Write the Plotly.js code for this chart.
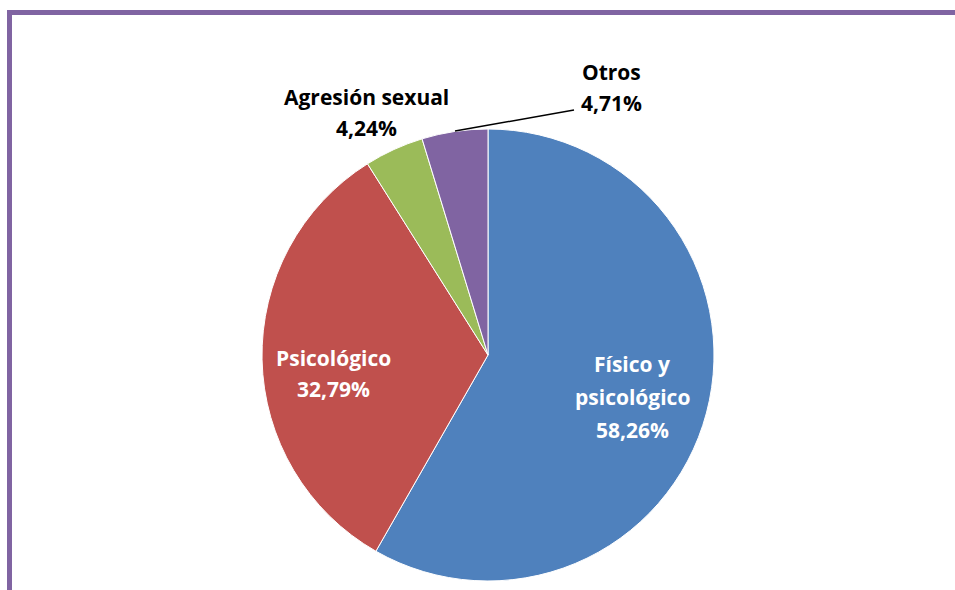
<!DOCTYPE html>
<html><head><meta charset="utf-8">
<script src="https://cdn.plot.ly/plotly-3.0.1.min.js"></script>
<style>html,body{margin:0;padding:0;background:#fff}#chart{width:955px;height:590px}</style>
</head><body><div id="chart"></div>
<script>
const categories = ["Físico y psicológico", "Psicológico", "Agresión sexual", "Otros"];
const labelLines = [["Físico y", "psicológico"], ["Psicológico"], ["Agresión sexual"], ["Otros"]];
const values = [58.26, 32.79, 4.24, 4.71];
const colors = ["#4F81BD", "#C0504D", "#9BBB59", "#8064A2"];

const W = 955, H = 590;
const fmt = v => v.toFixed(2).replace('.', ',') + '%';
const FONT = 'Open Sans, Liberation Sans, sans-serif';

// label first-line centre positions (pixels), line spacing and colours
const labelPos = [[632, 364], [333, 358], [366, 97], [611, 72]];
const lineGap = [33, 31, 31, 31];
const labelColors = ['#ffffff', '#ffffff', '#000000', '#000000'];

const annotations = [];
categories.forEach((c, i) => {
  const lines = labelLines[i].concat([fmt(values[i])]);
  lines.forEach((t, k) => {
    annotations.push({
      xref: 'paper', yref: 'paper',
      x: labelPos[i][0] / W, y: 1 - (labelPos[i][1] + k * lineGap[i]) / H,
      xanchor: 'center', yanchor: 'middle',
      text: t, showarrow: false,
      font: {family: FONT, size: 21, color: labelColors[i], weight: 'bold'}
    });
  });
});

const data = [{
  type: 'pie',
  labels: categories,
  values: values,
  sort: false,
  direction: 'clockwise',
  rotation: 0,
  marker: {colors: colors, line: {color: '#ffffff', width: 1}},
  textinfo: 'none',
  hoverinfo: 'label+percent',
  domain: {x: [262 / W, 714 / W], y: [1 - 581 / H, 1 - 129 / H]}
}];

const layout = {
  width: W, height: H,
  margin: {l: 0, r: 0, t: 0, b: 0},
  paper_bgcolor: '#ffffff',
  showlegend: false,
  annotations: annotations,
  shapes: [
    {type: 'line', xref: 'paper', yref: 'paper', x0: 9.5 / W, x1: 9.5 / W, y0: 0, y1: 1 - 12.5 / H,
     line: {color: '#8064A2', width: 5}},
    {type: 'line', xref: 'paper', yref: 'paper', x0: 7 / W, x1: 1, y0: 1 - 12.5 / H, y1: 1 - 12.5 / H,
     line: {color: '#8064A2', width: 5}},
    {type: 'line', xref: 'paper', yref: 'paper', x0: 455 / W, y0: 1 - 131 / H, x1: 574 / W, y1: 1 - 110 / H,
     line: {color: '#000000', width: 1.5}}
  ]
};

Plotly.newPlot('chart', data, layout, {displayModeBar: false, staticPlot: true});
</script>
</body></html>
